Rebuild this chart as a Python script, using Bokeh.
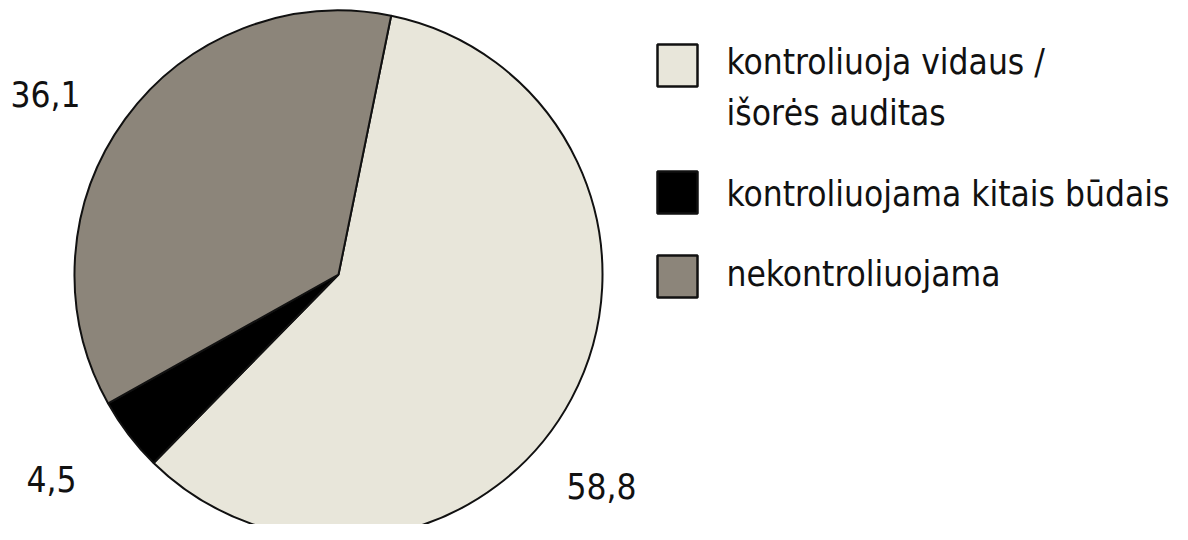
import math
from bokeh.plotting import figure
from bokeh.models import Range1d, ColumnDataSource
from bokeh.core.properties import value
from bokeh.embed import file_html
from bokeh.resources import INLINE

# ---- data ----
categories = ["kontroliuoja vidaus /\nišorės auditas", "kontroliuojama kitais būdais", "nekontroliuojama"]
values = [58.8, 4.5, 36.1]
value_labels = ["58,8", "4,5", "36,1"]
colors = ["#E8E6DA", "#000000", "#8C857A"]

# ---- layout (pixel coords of the reference; y measured from top) ----
W, H = 1172, 524
CX, CY, R = 338, 274, 264
START_DEG = 11.5            # first boundary, clockwise from 12 o'clock
LABEL_POS = [(601, 485), (51, 478), (45, 93)]
FONT = "DejaVu Sans Condensed"
FS = "35px"

def Y(y):
    return H - y

p = figure(width=W, height=H, output_backend="svg", toolbar_location=None,
           x_range=Range1d(0, W), y_range=Range1d(0, H),
           min_border=0, outline_line_color=None)
p.axis.visible = False
p.grid.visible = False
p.background_fill_color = "white"
p.border_fill_color = "white"

total = sum(values)
starts, ends = [], []
acc = 0.0
for v in values:
    a0 = math.radians(90 - START_DEG - 360 * acc / total)
    acc += v
    a1 = math.radians(90 - START_DEG - 360 * acc / total)
    starts.append(a0)
    ends.append(a1)

src = ColumnDataSource(dict(start=starts, end=ends, color=colors, cat=categories))
p.wedge(x=CX, y=Y(CY), radius=R, start_angle="start", end_angle="end",
        direction="clock", fill_color="color", line_color="#111111",
        line_width=2, source=src)

# value labels
p.text(x=[q[0] for q in LABEL_POS], y=[Y(q[1]) for q in LABEL_POS], text=value_labels,
       text_font=value(FONT), text_font_size=FS, text_color="#111111",
       text_align="center", text_baseline="middle")

# legend (manual)
SQ_X, SQ = 677, 40
sq_tops = [45, 172, 256]
text_tops = [41, 173, 253]
p.rect(x=[SQ_X] * 3, y=[Y(t + SQ / 2) for t in sq_tops], width=SQ, height=SQ + 2,
       fill_color=colors, line_color="#111111", line_width=2.5)
p.text(x=[726] * 3, y=[Y(t) for t in text_tops], text=categories,
       text_font=value(FONT), text_font_size=FS, text_color="#111111",
       text_align="left", text_baseline="top", text_line_height=1.28)

open("out.html", "w").write(file_html(p, INLINE))
